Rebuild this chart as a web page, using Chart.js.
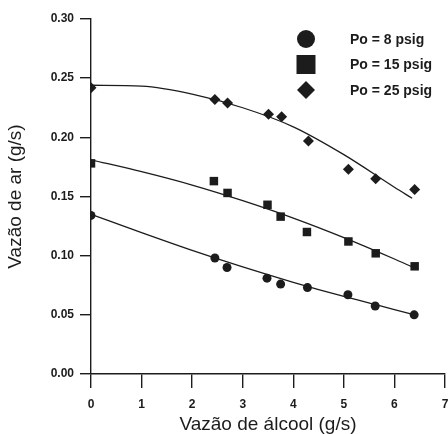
<!DOCTYPE html>
<html>
<head>
<meta charset="utf-8">
<script src="https://cdn.jsdelivr.net/npm/chart.js@4.4.1/dist/chart.umd.min.js"></script>
<style>
  html, body { margin: 0; padding: 0; background: #fff; overflow: hidden; }
  #wrap { width: 448px; height: 434px; position: relative; }
</style>
</head>
<body>
<div id="wrap"><canvas id="chart"></canvas></div>
<script>
// measured points
const x8 = [0, 2.45, 2.69, 3.48, 3.75, 4.28, 5.08, 5.62, 6.39];
const y8 = [0.134, 0.098, 0.090, 0.081, 0.076, 0.073, 0.067, 0.0575, 0.050];
const x15 = [0, 2.43, 2.70, 3.49, 3.75, 4.27, 5.09, 5.63, 6.40];
const y15 = [0.178, 0.163, 0.153, 0.143, 0.133, 0.120, 0.112, 0.102, 0.091];
const x25 = [0, 2.45, 2.70, 3.51, 3.77, 4.30, 5.09, 5.63, 6.40];
const y25 = [0.242, 0.232, 0.229, 0.2195, 0.2175, 0.197, 0.173, 0.165, 0.156];

// fitted curves
const fitX8 = [0, 1, 2, 3, 4, 5, 6, 6.4];
const fitY8 = [0.135, 0.1195, 0.1045, 0.0905, 0.0775, 0.0655, 0.0545, 0.050];
const fitX15 = [0, 1, 2, 3, 4, 5, 6, 6.35];
const fitY15 = [0.181, 0.171, 0.1597, 0.1465, 0.1318, 0.1153, 0.0972, 0.0905];
const fitX25 = [0, 1, 2, 3, 4, 5, 6, 6.35];
const fitY25 = [0.244, 0.2432, 0.2365, 0.225, 0.2089, 0.1854, 0.1578, 0.1485];

const seriesLabels = ['Po = 8 psig', 'Po = 15 psig', 'Po = 25 psig'];
const xTitle = 'Vazão de álcool (g/s)';
const yTitle = 'Vazão de ar (g/s)';

const ink = '#1c1c1c';
const pts = (xs, ys) => xs.map((x, i) => ({ x: x, y: ys[i] }));

const fitLine = (xs, ys) => ({
  type: 'line',
  data: pts(xs, ys),
  borderColor: ink,
  borderWidth: 1.3,
  pointRadius: 0,
  showLine: true,
  cubicInterpolationMode: 'monotone',
  fill: false
});

const marks = (xs, ys, label, style, r, legendR) => ({
  type: 'scatter',
  label: label,
  data: pts(xs, ys),
  showLine: false,
  pointStyle: style,
  pointRadius: r,
  pointBackgroundColor: ink,
  pointBorderWidth: 0,
  legendRadius: legendR
});

// legend drawn inside the top right of the plot, like the scanned figure
const pointLegend = {
  id: 'pointLegend',
  afterDraw(chart) {
    const ctx = chart.ctx;
    const area = chart.chartArea;
    const mx = area.left + 215;
    const tx = area.left + 259;
    const items = chart.data.datasets.filter(d => d.legendRadius);
    ctx.save();
    ctx.fillStyle = ink;
    ctx.font = 'bold 14px "Liberation Sans", Arial, sans-serif';
    ctx.textBaseline = 'middle';
    items.forEach((ds, i) => {
      const y = area.top + 20 + i * 25.5;
      const r = ds.legendRadius;
      ctx.beginPath();
      if (ds.pointStyle === 'circle') {
        ctx.arc(mx, y, r, 0, Math.PI * 2);
      } else if (ds.pointStyle === 'rect') {
        ctx.rect(mx - r, y - r, 2 * r, 2 * r);
      } else {
        ctx.moveTo(mx, y - r);
        ctx.lineTo(mx + r, y);
        ctx.lineTo(mx, y + r);
        ctx.lineTo(mx - r, y);
        ctx.closePath();
      }
      ctx.fill();
      ctx.fillText(ds.label, tx, y + 1);
    });
    ctx.restore();
  }
};

new Chart(document.getElementById('chart'), {
  type: 'scatter',
  data: {
    datasets: [
      fitLine(fitX8, fitY8),
      fitLine(fitX15, fitY15),
      fitLine(fitX25, fitY25),
      marks(x8, y8, seriesLabels[0], 'circle', 4.5, 9),
      marks(x15, y15, seriesLabels[1], 'rect', 6, 9.5),
      marks(x25, y25, seriesLabels[2], 'rectRot', 5.5, 9)
    ]
  },
  options: {
    responsive: true,
    maintainAspectRatio: false,
    animation: false,
    layout: { autoPadding: false, padding: { top: 19, right: 2, left: 0, bottom: 0 } },
    plugins: {
      legend: { display: false },
      tooltip: { enabled: false }
    },
    scales: {
      x: {
        type: 'linear',
        min: 0,
        max: 7,
        // chart.js counts tick padding twice, pin the band to the scan's size
        afterFit: s => { s.height = 60; s.paddingRight = 3; },
        ticks: {
          stepSize: 1,
          color: ink,
          padding: 9,
          font: { family: '"Liberation Sans", Arial, sans-serif', size: 12, weight: 'bold' }
        },
        grid: { drawOnChartArea: false, drawTicks: true, tickLength: 14, color: ink, lineWidth: 1.4 },
        border: { display: true, color: ink, width: 1.4 },
        title: {
          display: true,
          text: xTitle,
          color: ink,
          padding: { top: 0, bottom: 0 },
          font: { family: '"Liberation Sans", Arial, sans-serif', size: 19, lineHeight: 1 }
        }
      },
      y: {
        type: 'linear',
        min: 0,
        max: 0.30,
        afterFit: s => { s.width = 91; },
        ticks: {
          stepSize: 0.05,
          color: ink,
          padding: 6,
          callback: v => v.toFixed(2),
          font: { family: '"Liberation Sans", Arial, sans-serif', size: 12, weight: 'bold' }
        },
        grid: { drawOnChartArea: false, drawTicks: true, tickLength: 11, color: ink, lineWidth: 1.4 },
        border: { display: true, color: ink, width: 1.4 },
        title: {
          display: true,
          text: yTitle,
          color: ink,
          padding: { top: 6, bottom: 0 },
          font: { family: '"Liberation Sans", Arial, sans-serif', size: 19, lineHeight: 1 }
        }
      }
    }
  },
  plugins: [pointLegend]
});
</script>
</body>
</html>
